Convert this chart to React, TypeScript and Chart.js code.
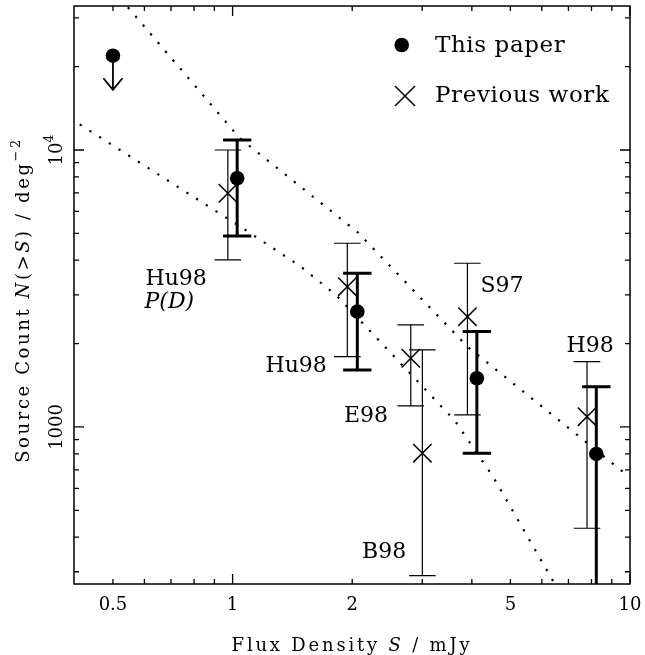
import React, { useEffect, useRef } from "react";
import { Chart, registerables } from "chart.js";

Chart.register(...registerables);

// ---------- data ----------
// "This paper" detections (filled circles, thick error bars)
const thisPaperFlux = [1.027, 2.06, 4.118, 8.227];
const thisPaperCount = [7906, 2608, 1499, 799];
const thisPaperHigh = [10866, 3588, 2210, 1398];
const thisPaperLow = [4893, 1606, 804, 150];

// "This paper" upper limit
const limitFlux = [0.5];
const limitCount = [21900];
const limitArrowTip = [16500];

// "Previous work" (crosses, thin error bars)
const prevFlux = [0.973, 1.944, 2.808, 3.003, 3.899, 7.795];
const prevCount = [6978, 3210, 1770, 804, 2501, 1089];
const prevHigh = [10000, 4605, 2335, 1897, 3899, 1721];
const prevLow = [4008, 1794, 1191, 290.5, 1105, 430.8];

// dotted model curves
const upperModelFlux = [0.5, 1.043, 2.064, 3.899, 10];
const upperModelCount = [37870, 11020, 5046, 1950, 657];
const lowerModelFlux = [0.39, 1.049, 1.477, 1.82, 3.63, 4.527, 6.337, 7];
const lowerModelCount = [13020, 5272, 3813, 2996, 1051, 660, 285, 222];

// axes
const xMin = 0.399;
const xMax = 10;
const yMin = 271;
const yMax = 33100;
const xTickValues = [0.5, 1, 2, 5, 10];
const xTickLabels = ["0.5", "1", "2", "5", "10"];
const xMajorTicks = [1, 10];
const xMinorTicks = [0.5, 0.6, 0.7, 0.8, 0.9, 2, 3, 4, 5, 6, 7, 8, 9];
const yTickValues = [1000, 10000];
const yMajorTicks = [1000, 10000];
const yMinorTicks = [300, 400, 500, 600, 700, 800, 900, 2000, 3000, 4000, 5000, 6000, 7000, 8000, 9000, 20000, 30000];

type Seg = { t: string; it?: boolean; sup?: boolean };

// annotation labels (pixel anchors: left x, baseline y)
const refLabels: { segs: Seg[]; x: number; y: number }[] = [
  { segs: [{ t: "Hu98" }], x: 145.5, y: 285 },
  { segs: [{ t: "P(D)", it: true }], x: 144.5, y: 308 },
  { segs: [{ t: "Hu98" }], x: 265.5, y: 371.5 },
  { segs: [{ t: "E98" }], x: 344, y: 421.5 },
  { segs: [{ t: "B98" }], x: 362, y: 558 },
  { segs: [{ t: "S97" }], x: 480.5, y: 291.5 },
  { segs: [{ t: "H98" }], x: 566.5, y: 351.5 },
];

const FAMILY = '"DejaVu Serif", serif';

function fontFor(s: Seg, size: number) {
  const sz = s.sup ? size * 0.72 : size;
  return `${s.it ? "italic " : ""}${sz}px ${FAMILY}`;
}

function measureSegs(ctx: CanvasRenderingContext2D, segs: Seg[], size: number, spacing: number) {
  let w = 0;
  for (const s of segs) {
    ctx.font = fontFor(s, size);
    (ctx as any).letterSpacing = spacing + "px";
    w += ctx.measureText(s.t).width;
  }
  return w;
}

function drawSegs(ctx: CanvasRenderingContext2D, segs: Seg[], x: number, y: number, size: number, spacing: number) {
  let cx = x;
  for (const s of segs) {
    ctx.font = fontFor(s, size);
    (ctx as any).letterSpacing = spacing + "px";
    ctx.fillText(s.t, cx, s.sup ? y - size * 0.48 : y);
    cx += ctx.measureText(s.t).width;
  }
}

const customPlugin = {
  id: "customDraw",
  beforeDatasetsDraw(chart: any) {
    const ctx: CanvasRenderingContext2D = chart.ctx;
    const xs = chart.scales.x;
    const ys = chart.scales.y;
    const a = chart.chartArea;
    ctx.save();
    ctx.beginPath();
    ctx.rect(a.left, a.top, a.right - a.left, a.bottom - a.top);
    ctx.clip();
    ctx.strokeStyle = "#000";
    ctx.lineCap = "butt";

    const drawErr = (f: number[], hi: number[], lo: number[], lw: number, cap: number) => {
      ctx.lineWidth = lw;
      for (let i = 0; i < f.length; i++) {
        const x = xs.getPixelForValue(f[i]);
        const yh = ys.getPixelForValue(hi[i]);
        const yl = ys.getPixelForValue(lo[i]);
        ctx.beginPath();
        ctx.moveTo(x, yh);
        ctx.lineTo(x, yl);
        ctx.moveTo(x - cap, yh);
        ctx.lineTo(x + cap, yh);
        ctx.moveTo(x - cap, yl);
        ctx.lineTo(x + cap, yl);
        ctx.stroke();
      }
    };
    drawErr(prevFlux, prevHigh, prevLow, 1.2, 13.3);
    drawErr(thisPaperFlux, thisPaperHigh, thisPaperLow, 3, 14.2);

    // upper-limit arrow
    ctx.lineWidth = 1.8;
    for (let i = 0; i < limitFlux.length; i++) {
      const x = xs.getPixelForValue(limitFlux[i]);
      const y0 = ys.getPixelForValue(limitCount[i]);
      const y1 = ys.getPixelForValue(limitArrowTip[i]);
      ctx.beginPath();
      ctx.moveTo(x, y0);
      ctx.lineTo(x, y1);
      ctx.moveTo(x - 9.5, y1 - 11.5);
      ctx.lineTo(x, y1);
      ctx.lineTo(x + 9.5, y1 - 11.5);
      ctx.stroke();
    }
    ctx.restore();
  },
  afterDraw(chart: any) {
    const ctx: CanvasRenderingContext2D = chart.ctx;
    const xs = chart.scales.x;
    const ys = chart.scales.y;
    const a = chart.chartArea;
    ctx.save();
    ctx.strokeStyle = "#000";
    ctx.fillStyle = "#000";
    ctx.lineWidth = 1.5;
    ctx.strokeRect(a.left, a.top, a.right - a.left, a.bottom - a.top);

    // ticks, inward on all four sides
    ctx.lineWidth = 1.3;
    ctx.beginPath();
    const xt = (v: number, len: number) => {
      const x = xs.getPixelForValue(v);
      ctx.moveTo(x, a.bottom);
      ctx.lineTo(x, a.bottom - len);
      ctx.moveTo(x, a.top);
      ctx.lineTo(x, a.top + len);
    };
    const yt = (v: number, len: number) => {
      const y = ys.getPixelForValue(v);
      ctx.moveTo(a.left, y);
      ctx.lineTo(a.left + len, y);
      ctx.moveTo(a.right, y);
      ctx.lineTo(a.right - len, y);
    };
    xMajorTicks.forEach((v) => xt(v, 10));
    xMinorTicks.forEach((v) => xt(v, 5));
    yMajorTicks.forEach((v) => yt(v, 10));
    yMinorTicks.forEach((v) => yt(v, 5));
    ctx.stroke();

    ctx.textAlign = "left";
    ctx.textBaseline = "alphabetic";

    // x tick labels
    xTickValues.forEach((v, i) => {
      const segs = [{ t: xTickLabels[i] }];
      const w = measureSegs(ctx, segs, 18, 0);
      drawSegs(ctx, segs, xs.getPixelForValue(v) - w / 2, 610, 18, 0);
    });

    // y tick labels (rotated)
    yTickValues.forEach((v) => {
      const segs: Seg[] = v === 10000 ? [{ t: "10" }, { t: "4", sup: true }] : [{ t: String(v) }];
      const w = measureSegs(ctx, segs, 18, 0);
      ctx.save();
      ctx.translate(61.5, ys.getPixelForValue(v));
      ctx.rotate(-Math.PI / 2);
      drawSegs(ctx, segs, -w / 2, 0, 18, 0);
      ctx.restore();
    });

    // x title
    const xTitle: Seg[] = [{ t: "Flux Density " }, { t: "S", it: true }, { t: " / mJy" }];
    const xw = measureSegs(ctx, xTitle, 18, 2.8);
    drawSegs(ctx, xTitle, (a.left + a.right) / 2 - xw / 2, 651, 18, 2.8);

    // y title
    const yTitle: Seg[] = [
      { t: "Source Count " },
      { t: "N", it: true },
      { t: "(>" },
      { t: "S", it: true },
      { t: ") / deg" },
      { t: "\u22122", sup: true },
    ];
    const yw = measureSegs(ctx, yTitle, 18, 2.6);
    ctx.save();
    ctx.translate(29, (a.top + a.bottom) / 2 + 5);
    ctx.rotate(-Math.PI / 2);
    drawSegs(ctx, yTitle, -yw / 2, 0, 18, 2.6);
    ctx.restore();

    // reference labels
    refLabels.forEach((l) => drawSegs(ctx, l.segs, l.x, l.y, 22, 0));

    // legend
    ctx.beginPath();
    ctx.arc(401.7, 45, 7.3, 0, Math.PI * 2);
    ctx.fill();
    drawSegs(ctx, [{ t: "This paper" }], 435, 51.7, 23, 0.6);
    ctx.lineWidth = 1.5;
    ctx.beginPath();
    ctx.moveTo(395, 86);
    ctx.lineTo(415, 106);
    ctx.moveTo(415, 86);
    ctx.lineTo(395, 106);
    ctx.stroke();
    drawSegs(ctx, [{ t: "Previous work" }], 435, 101.7, 23, 0.6);

    ctx.restore();
  },
};

export default function App() {
  const canvasRef = useRef<HTMLCanvasElement | null>(null);

  useEffect(() => {
    document.body.style.margin = "0";
    const canvas = canvasRef.current;
    if (!canvas) return;
    const toPts = (xs: number[], ys: number[]) => xs.map((x, i) => ({ x, y: ys[i] }));
    const chart = new Chart(canvas, {
      type: "scatter",
      data: {
        datasets: [
          {
            label: "This paper",
            data: [...toPts(limitFlux, limitCount), ...toPts(thisPaperFlux, thisPaperCount)],
            pointStyle: "circle",
            pointRadius: 7.3,
            pointBackgroundColor: "#000",
            pointBorderColor: "#000",
            pointBorderWidth: 0,
            order: 0,
          } as any,
          {
            label: "Previous work",
            data: toPts(prevFlux, prevCount),
            pointStyle: "crossRot",
            pointRadius: 13,
            pointBorderColor: "#000",
            pointBackgroundColor: "#000",
            pointBorderWidth: 1.5,
            order: 0,
          } as any,
          {
            label: "model upper",
            data: toPts(upperModelFlux, upperModelCount),
            showLine: true,
            borderColor: "#000",
            borderWidth: 2.2,
            borderDash: [2.2, 9.3],
            pointRadius: 0,
            fill: false,
            tension: 0,
            clip: 0,
            order: 1,
          } as any,
          {
            label: "model lower",
            data: toPts(lowerModelFlux, lowerModelCount),
            showLine: true,
            borderColor: "#000",
            borderWidth: 2.2,
            borderDash: [2.2, 9.3],
            pointRadius: 0,
            fill: false,
            tension: 0,
            clip: 0,
            order: 1,
          } as any,
        ],
      },
      options: {
        animation: false,
        responsive: false,
        events: [],
        layout: { autoPadding: false, padding: { left: 74, top: 6, right: 15, bottom: 71 } },
        plugins: { legend: { display: false }, tooltip: { enabled: false } },
        scales: {
          x: { type: "logarithmic", min: xMin, max: xMax, display: false },
          y: { type: "logarithmic", min: yMin, max: yMax, display: false },
        },
      },
      plugins: [customPlugin],
    });
    return () => chart.destroy();
  }, []);

  return (
    <div style={{ position: "fixed", left: 0, top: 0, width: 645, height: 655, background: "#fff" }}>
      <canvas ref={canvasRef} width={645} height={655} style={{ width: 645, height: 655, display: "block" }} />
    </div>
  );
}
